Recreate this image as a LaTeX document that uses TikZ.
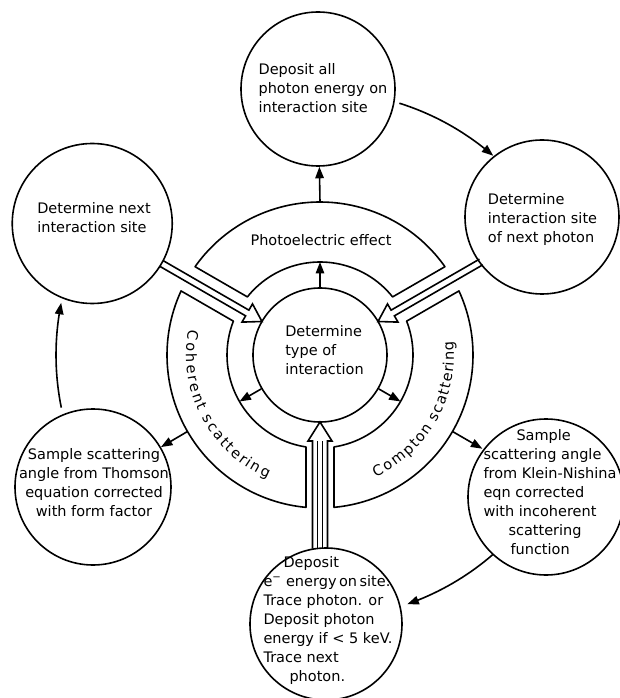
\documentclass[tikz,border=0pt]{standalone}
\usepackage{fontspec}
\setmainfont{DejaVu Sans}
\usetikzlibrary{arrows.meta,bending,decorations.text}
\newcommand\lblfont{\fontsize{14.5}{19}\selectfont}

\begin{document}
\begin{tikzpicture}[x=1pt,y=1pt,
  line width=1.6pt,
  bub/.style={circle, draw, minimum size=#1, inner sep=0pt},
  lbl/.style={font=\lblfont, align=left, inner sep=0pt},
  arr/.style={-{Triangle[length=11.5pt,width=8.5pt,bend]}},
  sector/.style={draw, line join=round},
  hollow/.style={draw, line join=miter},
  arctext/.style={decorate, decoration={text effects along path, text={#1},
      text effects/.cd, text along path, fit text to path,
      characters={font=\lblfont, inner sep=0pt, anchor=base}}},
]
\useasboundingbox (-320,-343) rectangle (299,355);

% process circles (centre of the scheme at the origin)
\node[bub=134pt] (ctr) at (0,0) {};
\node[bub=154pt] (top) at (-2,266) {};
\node[bub=160pt] (lt)  at (150:263) {};
\node[bub=154pt] (rt)  at (222,138) {};
\node[bub=156pt] (lb)  at (-227,-132) {};
\node[bub=156pt] (rb)  at (226,-142) {};
\node[bub=152pt] (bt)  at (6,-269) {};

% circle texts
\node[lbl] (ctr-t) at (4.5,5) {Determine\\type of\\interaction};
\node[lbl] (top-t) at (3,267) {Deposit all\\photon energy on\\interaction site};
\node[lbl] (lt-t)  at (-226,137) {Determine next\\interaction site};
\node[lbl] (rt-t)  at (222.5,135) {Determine\\interaction site\\of next photon};
\node[lbl, align=center] (lb-t) at (-226,-127.5) {Sample scattering\\angle from Thomson\\equation corrected\\with form factor};
\node[lbl] (rb-t)  at (230,-137.5) {\hspace*{33pt}Sample\\scattering angle\\from Klein-Nishina\\eqn corrected\\with incoherent\\\hspace*{25pt}scattering\\\hspace*{27pt}function};
\node[lbl] (bt-t)  at (8,-265) {\hspace*{20pt}Deposit\\e\textsuperscript{−} energy\hspace{2.5pt}on\hspace{2.5pt}site.\\Trace photon. or\\Deposit photon\\energy if < 5 keV.\\Trace next\\\hspace*{26pt}photon.};

% annular sectors between r = 93 and r = 153, gaps 28 wide
\draw[sector] (35.25:153) arc[start angle=35.25, end angle=144.75, radius=153]
  -- (141.34:93) arc[start angle=141.34, end angle=38.66, radius=93] -- cycle;
\draw[sector] (155.25:153) arc[start angle=155.25, end angle=264.75, radius=153]
  -- (261.34:93) arc[start angle=261.34, end angle=158.66, radius=93] -- cycle;
\draw[sector] (-84.75:153) arc[start angle=-84.75, end angle=24.75, radius=153]
  -- (21.34:93) arc[start angle=21.34, end angle=-81.34, radius=93] -- cycle;

\node[lbl] (pe-t) at (1,115) {Photoelectric effect};
\path[arctext={Coherent scattering}] (169:134) arc[start angle=169, end angle=247, radius=134];
\path[arctext={Compton scattering}] (-65.5:134) arc[start angle=-65.5, end angle=6, radius=134];

% short arrows from the centre into the ring
\coordinate (ring-pe) at (90:93);
\coordinate (ring-co) at (210:93);
\coordinate (ring-cm) at (-30:93);
\draw[arr] (ctr.90) -- (ring-pe);
\draw[arr] (ctr.210) -- (ring-co);
\draw[arr] (ctr.-30) -- (ring-cm);

% arrows from the sectors to their outcome circles
\coordinate (pe-out) at (90:153);
\coordinate (co-out) at (210:153);
\coordinate (cm-out) at (-30:153);
\coordinate (rb-in) at (-30:187.5);
\draw[arr] (pe-out) -- (top);
\draw[arr] (co-out) -- (lb);
\draw[arr] (cm-out) -- (rb-in);

% curved arrows around the outside
\coordinate (top-a) at (72.5:264);
\coordinate (rb-a) at (-49:264);
\coordinate (lb-a) at (191.5:264);
\draw[arr] (top-a) arc[start angle=72.5, end angle=49, radius=264];
\draw[arr] (rb-a) arc[start angle=-49, end angle=-70.7, radius=264];
\draw[arr] (lb-a) arc[start angle=191.5, end angle=168.6, radius=264];

% hollow double arrows into the centre
\begin{scope}[rotate=150]
  \draw[hollow] (183,3.3) -- (84,3.3) -- (84,10.5) -- (67,0) -- (84,-10.5) -- (84,-3.3) -- (183,-3.3);
\end{scope}
\begin{scope}[rotate=30]
  \draw[hollow] (186,3.3) -- (84,3.3) -- (84,10.5) -- (67,0) -- (84,-10.5) -- (84,-3.3) -- (186,-3.3);
\end{scope}
\begin{scope}[rotate=270]
  \draw[hollow] (193.5,7.5) -- (86,7.5) -- (86,12) -- (67,0) -- (86,-12) -- (86,-7.5) -- (193.5,-7.5);
  \draw (193.5,2.5) -- (86,2.5);
  \draw (193.5,-2.5) -- (86,-2.5);
\end{scope}
\end{tikzpicture}
\end{document}
